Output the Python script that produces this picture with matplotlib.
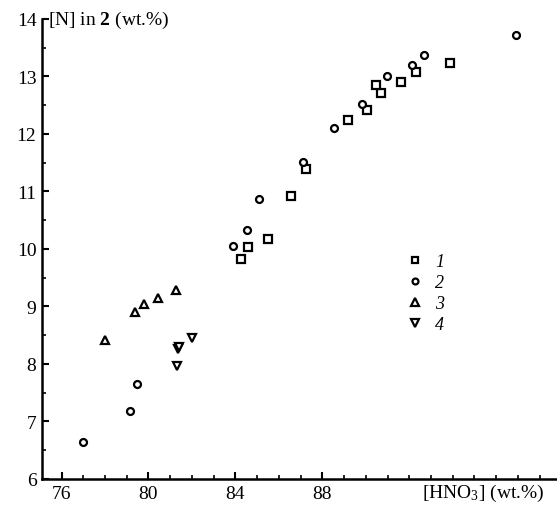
import matplotlib
matplotlib.use("Agg")
import matplotlib.pyplot as plt
from matplotlib.ticker import MultipleLocator

plt.rcParams["font.family"] = ["Liberation Serif", "DejaVu Serif"]
plt.rcParams["mathtext.fontset"] = "custom"
plt.rcParams["mathtext.rm"] = "Liberation Serif"
plt.rcParams["mathtext.it"] = "Liberation Serif:italic"
plt.rcParams["mathtext.bf"] = "Liberation Serif:bold"

# series 1 (squares)
hno3_1 = [84.24, 84.6, 85.52, 86.58, 87.26, 89.18, 90.07, 90.72, 90.46, 91.64, 92.3, 93.89]
n_1 = [9.83, 10.03, 10.17, 10.92, 11.39, 12.25, 12.41, 12.71, 12.85, 12.9, 13.08, 13.23]

# series 2 (circles)
hno3_2 = [76.98, 79.15, 79.47, 83.9, 84.55, 85.07, 87.12, 88.53, 89.84, 90.97, 92.12, 92.66, 96.92]
n_2 = [6.64, 7.18, 7.65, 10.05, 10.33, 10.87, 11.51, 12.1, 12.53, 13.0, 13.2, 13.37, 13.72]

# series 3 (triangles up)
hno3_3 = [78.0, 79.38, 79.8, 80.46, 81.27]
n_3 = [8.42, 8.9, 9.04, 9.14, 9.28]

# series 4 (triangles down)
hno3_4 = [82.0, 81.38, 81.42, 81.31]
n_4 = [8.45, 8.26, 8.3, 7.96]

series_labels = ["1", "2", "3", "4"]

fig = plt.figure(figsize=(5.57, 5.06), dpi=100)
ax = fig.add_axes([0.0754, 0.0514, 0.9246, 0.9091])

style = dict(linestyle="none", markerfacecolor="white", markeredgecolor="black",
             markeredgewidth=1.6, color="black")
ax.plot(hno3_1, n_1, marker="s", markersize=5.5, label=series_labels[0], **style)
ax.plot(hno3_2, n_2, marker="o", markersize=5, label=series_labels[1], **style)
ax.plot(hno3_3, n_3, marker="^", markersize=6, label=series_labels[2], **style)
ax.plot(hno3_4, n_4, marker="v", markersize=6, label=series_labels[3], **style)

ax.set_xlim(75.1, 98.8)
ax.set_ylim(6, 14)

for side in ["top", "right"]:
    ax.spines[side].set_visible(False)
for side in ["left", "bottom"]:
    ax.spines[side].set_linewidth(1.8)

ax.xaxis.set_minor_locator(MultipleLocator(1))
ax.yaxis.set_major_locator(MultipleLocator(1))
ax.yaxis.set_minor_locator(MultipleLocator(0.5))
ax.set_xticks([76, 80, 84, 88])
ax.tick_params(which="major", direction="in", length=5, width=1.5, labelsize=14, pad=4)
ax.tick_params(which="minor", direction="in", length=3, width=1.2)

ax.text(0.012, 1.0, r"[N] in $\mathbf{2}$ (wt.%)", transform=ax.transAxes,
        fontsize=14, ha="left", va="center")
ax.text(0.975, -0.03, r"[HNO$_3$] (wt.%)", transform=ax.transAxes,
        fontsize=14, ha="right", va="center")

leg = ax.legend(loc="upper left", bbox_to_anchor=(0.69, 0.51), frameon=False,
                prop={"style": "italic", "size": 13}, handlelength=1.0,
                handletextpad=0.6, labelspacing=0.22, borderpad=0,
                markerscale=0.85)

fig.savefig("out.png", dpi=100)
